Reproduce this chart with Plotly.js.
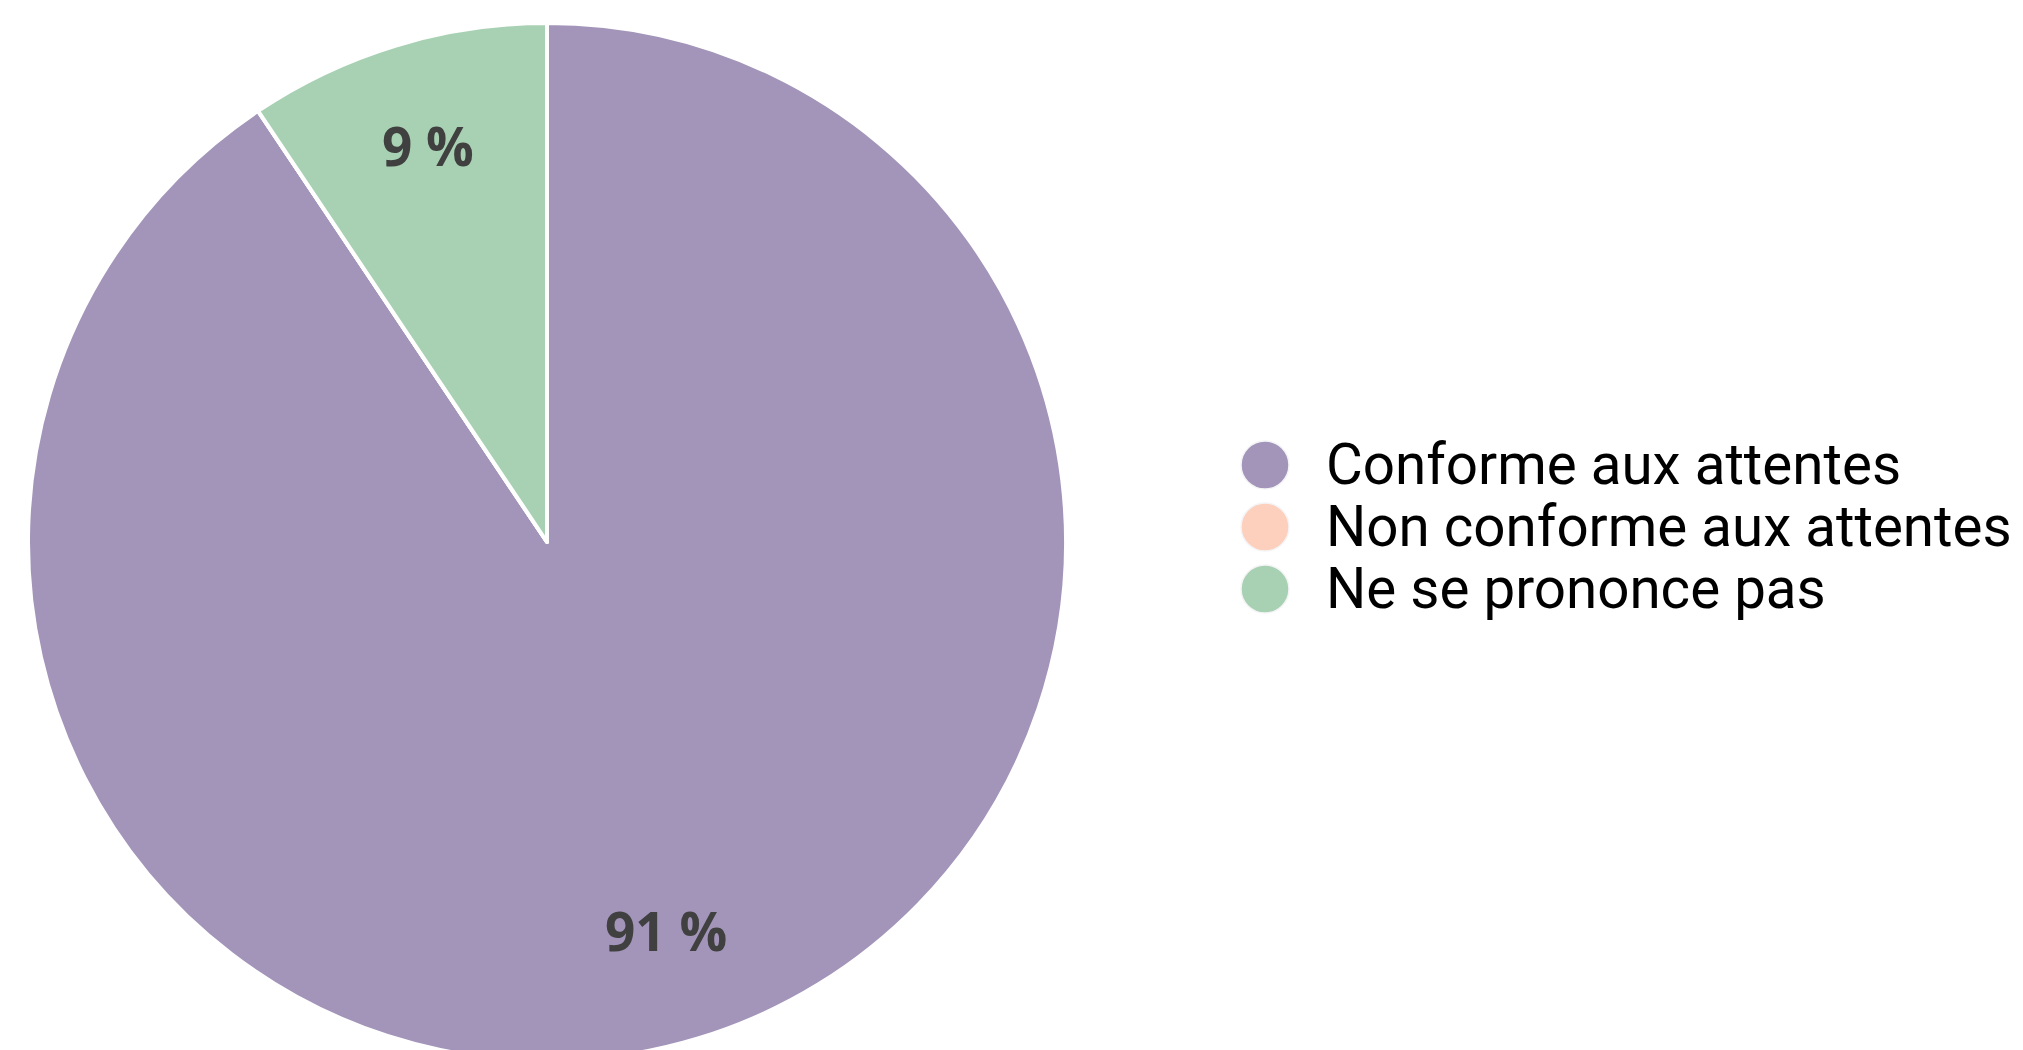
<!DOCTYPE html>
<html>
<head>
<meta charset="utf-8">
<script src="https://cdn.plot.ly/plotly-3.0.1.min.js"></script>
<style>
html,body{margin:0;padding:0;background:#fff;overflow:hidden;}
#chart{width:2023px;height:1062px;}
</style>
</head>
<body>
<div id="chart"></div>
<script>
var categories = ["Conforme aux attentes", "Non conforme aux attentes", "Ne se prononce pas"];
var values = [90.6, 0, 9.4];
var colors = ["#a395b9", "#fdd0bd", "#a8d1b3"];

var total = values.reduce(function(a, b){ return a + b; }, 0);
var labelsText = values.map(function(v){
  return v > 0 ? Math.round(v / total * 100) + " %" : "";
});

var W = 2023, H = 1062;
var pieX0 = 28, pieX1 = 1066, pieTop = 23;
var R = (pieX1 - pieX0) / 2;
var CX = pieX0 + R, CY = pieTop + R;

var trace = {
  type: "pie",
  labels: categories,
  values: values,
  textinfo: "none",
  hoverinfo: "label+percent",
  sort: false,
  direction: "clockwise",
  rotation: 0,
  marker: {colors: colors, line: {color: "#ffffff", width: 4}},
  domain: {x: [pieX0 / W, pieX1 / W], y: [1 - (pieTop + 2 * R) / H, 1 - pieTop / H]},
  showlegend: false
};

var shapes = [];
var annotations = [];

// slice labels placed at the middle angle of each slice (clockwise from 12 o'clock)
var cum = 0;
values.forEach(function(v, i){
  var mid = (cum + v / 2) / total * 2 * Math.PI;
  cum += v;
  if (!(v > 0)) return;
  var rr = 0.79 * R;
  var px = CX + rr * Math.sin(mid);
  var py = CY - rr * Math.cos(mid);
  annotations.push({
    xref: "paper", yref: "paper",
    x: px / W, y: 1 - py / H,
    xanchor: "center", yanchor: "middle", yshift: 4,
    text: labelsText[i], showarrow: false,
    font: {family: "Open Sans, sans-serif", size: 53, color: "#404040", weight: "bold"}
  });
});

var legX = 1265, legY0 = 465, legStep = 62, legR = 24;
categories.forEach(function(c, i){
  var cy = legY0 + i * legStep;
  shapes.push({
    type: "circle", xref: "paper", yref: "paper",
    x0: (legX - legR) / W, x1: (legX + legR) / W,
    y0: 1 - (cy + legR) / H, y1: 1 - (cy - legR) / H,
    fillcolor: colors[i], line: {color: "#f4f4f6", width: 1.5}
  });
  annotations.push({
    xref: "paper", yref: "paper",
    x: 1324 / W, y: 1 - cy / H,
    xanchor: "left", yanchor: "middle",
    text: c, showarrow: false,
    font: {family: "Roboto, sans-serif", size: 56.5, color: "#000000"}
  });
});

var layout = {
  width: W, height: H,
  margin: {l: 0, r: 0, t: 0, b: 0},
  paper_bgcolor: "#ffffff",
  showlegend: false,
  shapes: shapes,
  annotations: annotations
};

Plotly.newPlot("chart", [trace], layout, {displayModeBar: false, staticPlot: true});
</script>
</body>
</html>
